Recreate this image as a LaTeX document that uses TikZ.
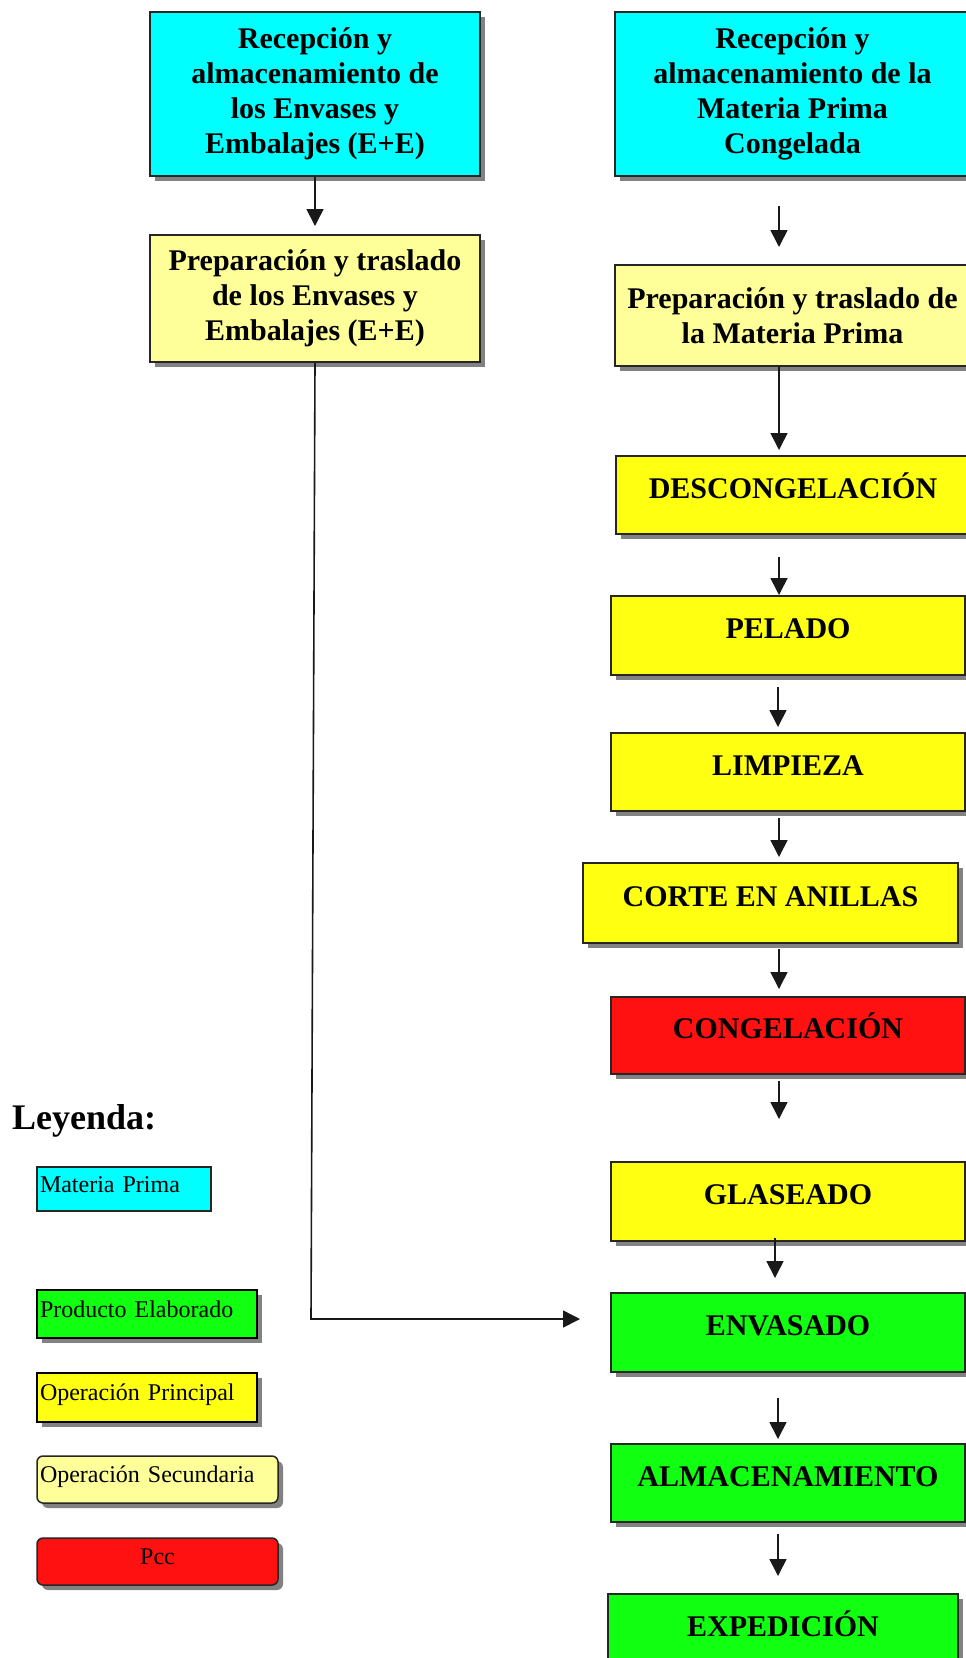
\documentclass[tikz,border=0pt]{standalone}
\usepackage{fontspec}
\setmainfont{Liberation Serif}
\usetikzlibrary{arrows.meta,shadows,calc}
\definecolor{cyanC}{RGB}{0,255,255}
\definecolor{lyelC}{RGB}{255,255,153}
\definecolor{yelC}{RGB}{255,255,17}
\definecolor{grnC}{RGB}{17,255,17}
\definecolor{redC}{RGB}{255,17,17}
\definecolor{shadC}{RGB}{130,130,130}
\tikzset{
  shad/.style={drop shadow={shadow xshift=5pt,shadow yshift=-5pt,fill=shadC,opacity=1}},
  flowbox/.style={draw=black!85, line width=2pt, shad, inner sep=0pt, align=center,
    font=\bfseries\fontsize{30}{35}\selectfont},
  oneline/.style={flowbox, text height=20pt, text depth=14pt},
  legbox/.style={inner xsep=3pt, inner ysep=0pt, align=left,
    font=\fontsize{24}{28}\selectfont, text height=17pt, text depth=11pt},
  arr/.style={line width=1.6pt, draw=black!90, -{Triangle[length=17pt,width=17pt]}},
}
\begin{document}
\begin{tikzpicture}[x=1pt,y=-1pt]
\useasboundingbox (0,0) rectangle (966,1658);
\clip (0,0) rectangle (966,1658);
\fill[white] (0,0) rectangle (966,1658);

% left column
\node[flowbox, fill=cyanC, minimum width=330pt, minimum height=164pt] (L1) at (315,94)
  {Recepción y\\almacenamiento de\\los Envases y\\Embalajes (E+E)};
\node[flowbox, fill=lyelC, minimum width=330pt, minimum height=127pt] (L2) at (315,298.5)
  {Preparación y traslado\\de los Envases y\\Embalajes (E+E)};

% right column
\node[flowbox, fill=cyanC, minimum width=355pt, minimum height=164pt] (R1) at (792.5,94)
  {Recepción y\\almacenamiento de la\\Materia Prima\\Congelada};
\node[flowbox, fill=lyelC, minimum width=355pt, minimum height=101pt] (R2) at (792.5,315.5)
  {Preparación y traslado de\\la Materia Prima};
\node[oneline, fill=yelC, minimum width=354pt, minimum height=78pt] (DESC) at (793,495) {DESCONGELACIÓN};
\node[oneline, fill=yelC, minimum width=354pt, minimum height=79pt] (PEL) at (788,635.5) {PELADO};
\node[oneline, fill=yelC, minimum width=354pt, minimum height=78pt] (LIMP) at (788,772) {LIMPIEZA};
\node[oneline, fill=yelC, minimum width=375pt, minimum height=80pt] (CORTE) at (770.5,903) {CORTE EN ANILLAS};
\node[oneline, fill=redC, minimum width=354pt, minimum height=77pt] (CONG) at (788,1035.5) {CONGELACIÓN};
\node[oneline, fill=yelC, minimum width=354pt, minimum height=79pt] (GLAS) at (788,1201.5) {GLASEADO};
\node[oneline, fill=grnC, minimum width=354pt, minimum height=79pt] (ENV) at (788,1332.5) {ENVASADO};
\node[oneline, fill=grnC, minimum width=354pt, minimum height=78pt] (ALM) at (788,1483) {ALMACENAMIENTO};
\node[oneline, fill=grnC, minimum width=350pt, minimum height=79pt] (EXP) at (783,1633.5) {EXPEDICIÓN};

% legend
\node[anchor=base west, inner sep=0pt, font=\bfseries\fontsize{36}{40}\selectfont] (LEY) at (12,1129) {Leyenda:};
\node[legbox, draw=black!85, line width=1.3pt, fill=cyanC, minimum width=174pt, minimum height=44pt, text width=168pt] (LG1) at (124,1189) {Materia Prima};
\node[legbox, draw=black, line width=2.6pt, fill=grnC, shad, minimum width=220pt, minimum height=48pt, text width=214pt] (LG2) at (147,1314) {Producto Elaborado};
\node[legbox, draw=black, line width=2.6pt, fill=yelC, shad, minimum width=220pt, minimum height=49pt, text width=214pt] (LG3) at (147,1397.5) {Operación Principal};
\node[legbox, draw=black!85, line width=1.5pt, fill=lyelC, shad, rounded corners=6pt, minimum width=241pt, minimum height=47pt, text width=235pt] (LG4) at (157.5,1479.5) {Operación Secundaria};
\node[legbox, draw=black!85, line width=1.5pt, fill=redC, shad, rounded corners=6pt, minimum width=241pt, minimum height=47pt, text width=235pt, align=center] (LG5) at (157.5,1561.5) {Pcc};

% arrow columns
\coordinate (ax) at (779,0);
\coordinate (bx) at (778,0);
\coordinate (cx) at (775,0);

\draw[arr, shorten >=8pt] (L1.south) -- (L2.north);
\draw[arr, shorten <=29pt, shorten >=17pt] (R1.south -| ax) -- (R2.north -| ax);
\draw[arr, shorten >=5pt] (R2.south -| ax) -- (DESC.north -| ax);
\draw[arr, shorten <=22pt] (DESC.south -| ax) -- (PEL.north -| ax);
\draw[arr, shorten <=11pt, shorten >=5pt] (PEL.south -| bx) -- (LIMP.north -| bx);
\draw[arr, shorten <=6pt, shorten >=5pt] (LIMP.south -| ax) -- (CORTE.north -| ax);
\draw[arr, shorten <=5pt, shorten >=7pt] (CORTE.south -| ax) -- (CONG.north -| ax);
\draw[arr, shorten <=6pt, shorten >=42pt] (CONG.south -| ax) -- (GLAS.north -| ax);
\draw[arr, shorten <=-4pt, shorten >=14pt] (GLAS.south -| cx) -- (ENV.north -| cx);
\draw[arr, shorten <=25pt, shorten >=4pt] (ENV.south -| bx) -- (ALM.north -| bx);
\draw[arr, shorten <=11pt, shorten >=17pt] (ALM.south -| bx) -- (EXP.north -| bx);

% side connector
\coordinate (bend) at (311,1319);
\draw[arr, shorten >=30pt] (L2.south) -- (bend) -- (ENV.west |- bend);
\end{tikzpicture}
\end{document}
